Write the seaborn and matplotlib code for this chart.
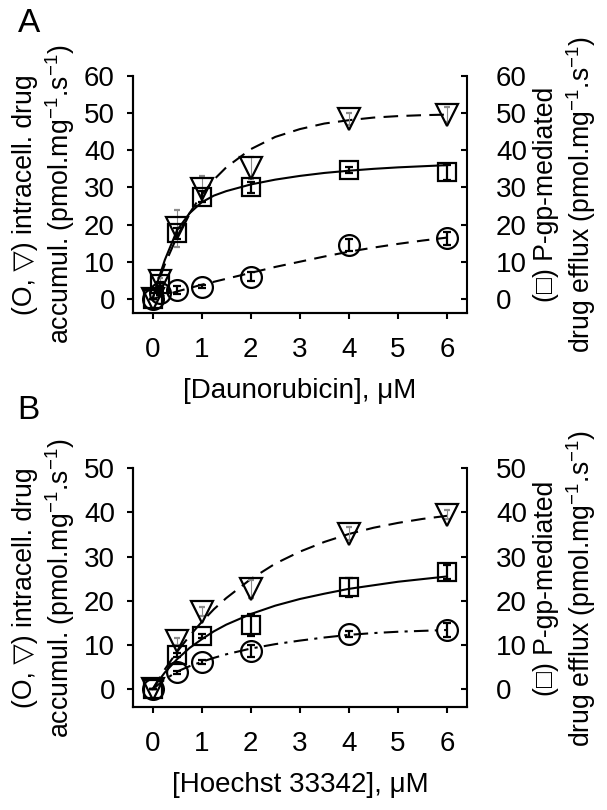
import matplotlib
matplotlib.use("Agg")
import matplotlib.pyplot as plt
import seaborn as sns

# x grid for the drawn fit curves
fit_x = [0, 0.1, 0.25, 0.5, 0.75, 1, 1.25, 1.5, 2, 2.5, 3, 3.5, 4, 4.5, 5, 5.5, 6]

# panel A - daunorubicin
dnr_x = [0, 0.15, 0.5, 1, 2, 4, 6]
dnr_circ = [0, 1.5, 2.4, 3.3, 6.0, 14.5, 16.3]
dnr_circ_err = [0, 0.5, 1.0, 0.3, 1.2, 1.5, 1.8]
dnr_tri = [0, 4.7, 19.0, 29.5, 35.2, 48.4, 49.6]
dnr_tri_err = [0, 1.0, 5.0, 3.5, 3.0, 1.5, 2.0]
dnr_sq = [0, 4.0, 17.7, 27.5, 30.0, 34.7, 34.1]
dnr_sq_err = [0, 0.5, 1.5, 1.5, 1.5, 0.8, 2.0]

dnr_circ_fit = [0, 0.4, 1.0, 2.0, 2.9, 3.8, 4.6, 5.4, 7.0, 8.6, 10.0, 11.4, 12.7, 13.8, 14.8, 15.7, 16.5]
dnr_tri_fit = [0, 3.9, 9.3, 16.8, 23.0, 28.0, 32.1, 35.4, 40.3, 43.6, 45.7, 47.2, 48.1, 48.8, 49.2, 49.45, 49.6]
dnr_sq_fit = [0, 4.5, 10.5, 18.5, 23.0, 26.0, 27.8, 29.0, 30.8, 32.1, 33.1, 33.9, 34.5, 35.0, 35.4, 35.7, 36.0]

# panel B - Hoechst 33342
hoe_x = [0, 0.5, 1, 2, 4, 6]
hoe_circ = [0, 3.8, 6.2, 8.7, 12.5, 13.4]
hoe_circ_err = [0, 0.4, 0.5, 1.3, 0.6, 1.5]
hoe_tri = [0, 10.8, 17.5, 22.6, 35.2, 39.4]
hoe_tri_err = [0, 0.8, 1.0, 2.0, 1.5, 1.0]
hoe_sq = [0, 7.8, 12.0, 14.6, 23.0, 26.5]
hoe_sq_err = [0, 0.5, 0.5, 2.5, 2.2, 1.5]

hoe_circ_fit = [0, 0.9, 2.2, 4.0, 5.2, 6.2, 7.1, 7.9, 9.2, 10.2, 11.0, 11.7, 12.3, 12.7, 13.0, 13.2, 13.4]
hoe_tri_fit = [0, 1.85, 4.5, 8.5, 12.0, 15.2, 18.1, 20.6, 24.9, 28.4, 31.1, 33.3, 35.1, 36.5, 37.6, 38.5, 39.2]
hoe_sq_fit = [0, 1.6, 3.8, 6.8, 9.3, 11.3, 13.1, 14.6, 17.0, 18.9, 20.4, 21.6, 22.7, 23.5, 24.3, 24.9, 25.5]

xticks = [0, 1, 2, 3, 4, 5, 6]

sns.set_theme(style="ticks", rc={'text.color': 'black', 'axes.labelcolor': 'black',
                                 'xtick.color': 'black', 'ytick.color': 'black',
                                 'axes.edgecolor': 'black'})
plt.rcParams['font.family'] = ['Liberation Sans', 'DejaVu Sans']
plt.rcParams['mathtext.fontset'] = 'custom'
plt.rcParams['mathtext.rm'] = 'Liberation Sans'
plt.rcParams['mathtext.it'] = 'Liberation Sans:italic'
plt.rcParams['mathtext.bf'] = 'Liberation Sans:bold'

FS = 20          # horizontal text
FS_LAB = 19.2    # rotated axis titles
left_label = "(O, \u25bd) intracell. drug\naccumul. (pmol.mg$^{-1}$.s$^{-1}$)"
right_label = "(\u25a1) P-gp-mediated\ndrug efflux (pmol.mg$^{-1}$.s$^{-1}$)"

fig = plt.figure(figsize=(6.07, 8.10), dpi=100)


def draw_panel(rect, x, circ, circ_err, tri, tri_err, sq, sq_err,
               circ_fit, tri_fit, sq_fit, circ_ls, ymin, ymax, xlabel):
    ax = fig.add_axes(rect)
    ax2 = ax.twinx()

    # fitted curves
    sns.lineplot(x=fit_x, y=circ_fit, ax=ax, color='black', lw=1.5, linestyle=circ_ls)
    sns.lineplot(x=fit_x, y=tri_fit, ax=ax, color='black', lw=1.5, linestyle=(0, (7, 4)))
    sns.lineplot(x=fit_x, y=sq_fit, ax=ax2, color='black', lw=1.5, linestyle='-')

    # measured points
    ax.errorbar(x, circ, yerr=circ_err, fmt='o', ms=15, mfc='none', mec='black', mew=1.6,
                ecolor='black', elinewidth=1.6, capsize=3, capthick=1.6)
    ax.errorbar(x, tri, yerr=tri_err, fmt='v', ms=16, mfc='none', mec='black', mew=1.6,
                ecolor='0.55', elinewidth=0.8, capsize=2, capthick=0.8)
    ax2.errorbar(x, sq, yerr=sq_err, fmt='s', ms=13.5, mfc='none', mec='black', mew=1.6,
                 ecolor='black', elinewidth=1.6, capsize=3, capthick=1.6)

    for a in (ax, ax2):
        a.set_xlim(-0.4, 6.4)
        a.set_ylim(ymin, ymax)
        a.set_yticks(range(0, ymax + 1, 10))
        a.spines['top'].set_visible(False)
        for s in a.spines.values():
            s.set_linewidth(1.5)
        a.set_ylabel('')
    ax.spines['right'].set_visible(False)
    ax.set_xticks(xticks)
    ax.tick_params(axis='both', labelsize=FS, width=1.5, length=4, direction='out')
    ax.tick_params(axis='x', pad=13)
    ax.tick_params(axis='y', pad=9)
    ax2.tick_params(axis='y', labelsize=FS, width=1.5, length=4, direction='in', pad=21)
    ax.set_xlabel(xlabel, fontsize=FS, labelpad=11)
    return ax


ax_a = draw_panel([0.219, 0.6136, 0.550, 0.2926], dnr_x, dnr_circ, dnr_circ_err,
                  dnr_tri, dnr_tri_err, dnr_sq, dnr_sq_err,
                  dnr_circ_fit, dnr_tri_fit, dnr_sq_fit, (0, (6, 4)), -3.8, 60,
                  "[Daunorubicin], \u03bcM")
ax_b = draw_panel([0.219, 0.1272, 0.550, 0.295], hoe_x, hoe_circ, hoe_circ_err,
                  hoe_tri, hoe_tri_err, hoe_sq, hoe_sq_err,
                  hoe_circ_fit, hoe_tri_fit, hoe_sq_fit, (0, (7, 3, 1.5, 3)), -4, 50,
                  "[Hoechst 33342], \u03bcM")

for yc in (0.760, 0.274):
    fig.text(0.073, yc, left_label, rotation=90, ha='center', va='center',
             multialignment='center', fontsize=FS_LAB, linespacing=1.2)
    fig.text(0.931, yc, right_label, rotation=90, ha='center', va='center',
             multialignment='center', fontsize=FS_LAB, linespacing=1.2)

fig.text(0.048, 0.971, "A", fontsize=24, ha='center', va='center')
fig.text(0.046, 0.493, "B", fontsize=24, ha='center', va='center')

fig.savefig("out.png", dpi=100)
